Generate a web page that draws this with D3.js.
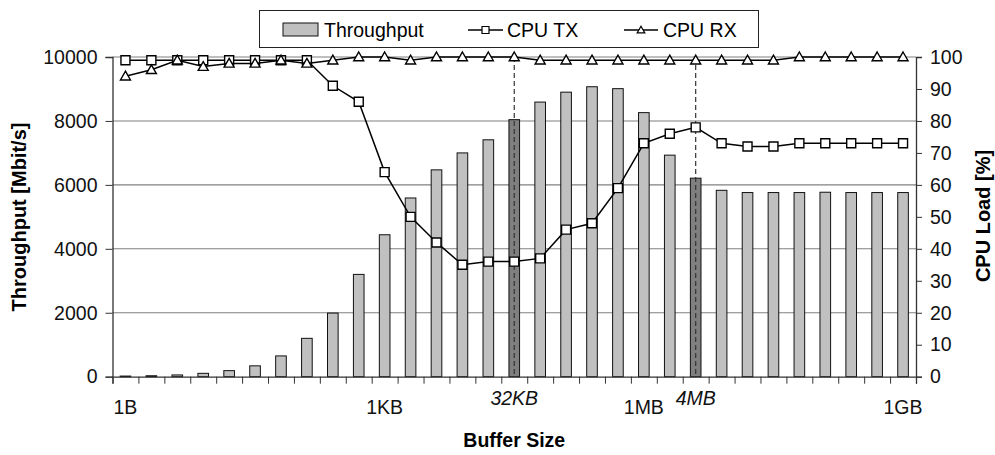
<!DOCTYPE html>
<html>
<head>
<meta charset="utf-8">
<script src="https://cdn.jsdelivr.net/npm/d3@7"></script>
<style>
  body { margin: 0; background: #fff; }
  text { font-family: "Liberation Sans", Arial, sans-serif; }
</style>
</head>
<body>
<svg id="chart" width="995" height="455"></svg>
<script>
// buffer sizes 2^0 .. 2^30
const sizes = ['1B','2B','4B','8B','16B','32B','64B','128B','256B','512B',
  '1KB','2KB','4KB','8KB','16KB','32KB','64KB','128KB','256KB','512KB',
  '1MB','2MB','4MB','8MB','16MB','32MB','64MB','128MB','256MB','512MB','1GB'];

const throughput = [20, 30, 55, 105, 190, 340, 650, 1200, 1990, 3200,
  4440, 5590, 6470, 7000, 7410, 8040, 8590, 8900, 9070, 9010,
  8260, 6930, 6210, 5830, 5760, 5760, 5760, 5770, 5760, 5760, 5760];

const cpuTx = [99, 99, 99, 99, 99, 99, 99, 99, 91, 86,
  64, 50, 42, 35, 36, 36, 37, 46, 48, 59,
  73, 76, 78, 73, 72, 72, 73, 73, 73, 73, 73];

const cpuRx = [94, 96, 99, 97, 98, 98, 99, 98, 99, 100,
  100, 99, 100, 100, 100, 100, 99, 99, 99, 99,
  99, 99, 99, 99, 99, 99, 100, 100, 100, 100, 100];

const mainLabels = ['1B', '1KB', '1MB', '1GB'];
const markedSizes = ['32KB', '4MB'];
const leftTicks = [0, 2000, 4000, 6000, 8000, 10000];
const rightTicks = d3.range(0, 101, 10);

const svg = d3.select('#chart');
const pLeft = 112.5, pRight = 916, pTop = 57, pBottom = 376.7;

const x = d3.scaleBand().domain(sizes).range([pLeft, pRight]);
const xEdge = d3.scaleLinear().domain([0, sizes.length]).range([pLeft, pRight]);
const yT = d3.scaleLinear().domain([0, 10000]).range([pBottom, pTop]);
const yC = d3.scaleLinear().domain([0, 100]).range([pBottom, pTop]);
const cx = d => x(d) + x.bandwidth() / 2;

// gridlines
svg.append('g')
  .selectAll('line')
  .data(leftTicks.filter(d => d > 0))
  .join('line')
  .attr('x1', pLeft).attr('x2', pRight)
  .attr('y1', d => yT(d)).attr('y2', d => yT(d))
  .attr('stroke', '#808080').attr('stroke-width', 1.1);

// bars
const bw = x.bandwidth() * 0.41;
svg.append('g')
  .selectAll('rect')
  .data(sizes)
  .join('rect')
  .attr('x', d => cx(d) - bw / 2)
  .attr('width', bw)
  .attr('y', (d, i) => yT(throughput[i]))
  .attr('height', (d, i) => pBottom - yT(throughput[i]))
  .attr('fill', d => markedSizes.includes(d) ? '#7f7f7f' : '#c0c0c0')
  .attr('stroke', '#111').attr('stroke-width', 1);

// dashed markers
svg.append('g')
  .selectAll('line')
  .data(markedSizes)
  .join('line')
  .attr('x1', cx).attr('x2', cx)
  .attr('y1', pTop).attr('y2', pBottom)
  .attr('stroke', '#333').attr('stroke-width', 1.2)
  .attr('stroke-dasharray', '5,3');

// axes
const ax = svg.append('g').attr('transform', `translate(0,${pBottom})`)
  .call(d3.axisBottom(xEdge).tickValues(d3.range(sizes.length + 1)).tickSize(7).tickFormat(''));
const ayl = svg.append('g').attr('transform', `translate(${pLeft},0)`)
  .call(d3.axisLeft(yT).tickValues(leftTicks).tickSize(7).tickPadding(8).tickFormat(d3.format('d')));
const ayr = svg.append('g').attr('transform', `translate(${pRight},0)`)
  .call(d3.axisRight(yC).tickValues(rightTicks).tickSize(6).tickPadding(8));
[ax, ayl, ayr].forEach(g => {
  g.selectAll('path.domain').attr('stroke', '#333').attr('stroke-width', 1.3);
  g.selectAll('.tick line').attr('stroke', '#333');
  g.selectAll('text').attr('font-size', '19.5px').attr('fill', '#111')
    .attr('font-family', '"Liberation Sans", Arial, sans-serif');
});

// category labels
svg.append('g')
  .selectAll('text')
  .data(mainLabels)
  .join('text')
  .attr('x', cx).attr('y', 414)
  .attr('text-anchor', 'middle').attr('font-size', '19.5px').attr('fill', '#111')
  .text(d => d);
svg.append('g')
  .selectAll('text')
  .data(markedSizes)
  .join('text')
  .attr('x', cx).attr('y', 405)
  .attr('text-anchor', 'middle').attr('font-size', '19.5px').attr('font-style', 'italic')
  .attr('fill', '#111')
  .text(d => d);

// series lines
function series(vals, marker) {
  const g = svg.append('g');
  g.append('path')
    .datum(vals)
    .attr('fill', 'none').attr('stroke', '#000').attr('stroke-width', 1.5)
    .attr('d', d3.line().x((d, i) => cx(sizes[i])).y(d => yC(d)));
  g.selectAll('path.m')
    .data(vals)
    .join('path')
    .attr('class', 'm')
    .attr('transform', (d, i) => `translate(${cx(sizes[i])},${yC(d)})`)
    .attr('d', marker)
    .attr('fill', '#fff').attr('stroke', '#000').attr('stroke-width', 1.4);
}
const square = s => `M${-s},${-s}H${s}V${s}H${-s}Z`;
const triangle = s => `M0,${-s}L${s},${s * 0.75}H${-s}Z`;
series(cpuTx, square(4.5));
series(cpuRx, triangle(5));

// axis titles
svg.append('text')
  .attr('transform', 'translate(26,217) rotate(-90)')
  .attr('text-anchor', 'middle').attr('font-size', '20px').attr('font-weight', 'bold')
  .text('Throughput [Mbit/s]');
svg.append('text')
  .attr('transform', 'translate(990,216) rotate(-90)')
  .attr('text-anchor', 'middle').attr('font-size', '20px').attr('font-weight', 'bold')
  .text('CPU Load [%]');
svg.append('text')
  .attr('x', (pLeft + pRight) / 2).attr('y', 447)
  .attr('text-anchor', 'middle').attr('font-size', '19.5px').attr('font-weight', 'bold')
  .text('Buffer Size');

// legend
const lg = svg.append('g');
lg.append('rect').attr('x', 259.5).attr('y', 10.5).attr('width', 499).attr('height', 37)
  .attr('fill', '#fff').attr('stroke', '#222').attr('stroke-width', 1);
lg.append('rect').attr('x', 283).attr('y', 23).attr('width', 35).attr('height', 13)
  .attr('fill', '#c0c0c0').attr('stroke', '#111');
lg.append('text').attr('x', 324).attr('y', 37).attr('font-size', '19.5px').text('Throughput');
lg.append('line').attr('x1', 468).attr('x2', 503).attr('y1', 30).attr('y2', 30).attr('stroke', '#000').attr('stroke-width', 1.3);
lg.append('path').attr('transform', 'translate(485.5,30)').attr('d', square(3.5))
  .attr('fill', '#fff').attr('stroke', '#000').attr('stroke-width', 1.2);
lg.append('text').attr('x', 507).attr('y', 37).attr('font-size', '19.5px').text('CPU TX');
lg.append('line').attr('x1', 624).attr('x2', 658).attr('y1', 30).attr('y2', 30).attr('stroke', '#000').attr('stroke-width', 1.3);
lg.append('path').attr('transform', 'translate(641,30)').attr('d', triangle(3.8))
  .attr('fill', '#fff').attr('stroke', '#000').attr('stroke-width', 1.2);
lg.append('text').attr('x', 663).attr('y', 37).attr('font-size', '19.5px').text('CPU RX');
</script>
</body>
</html>
